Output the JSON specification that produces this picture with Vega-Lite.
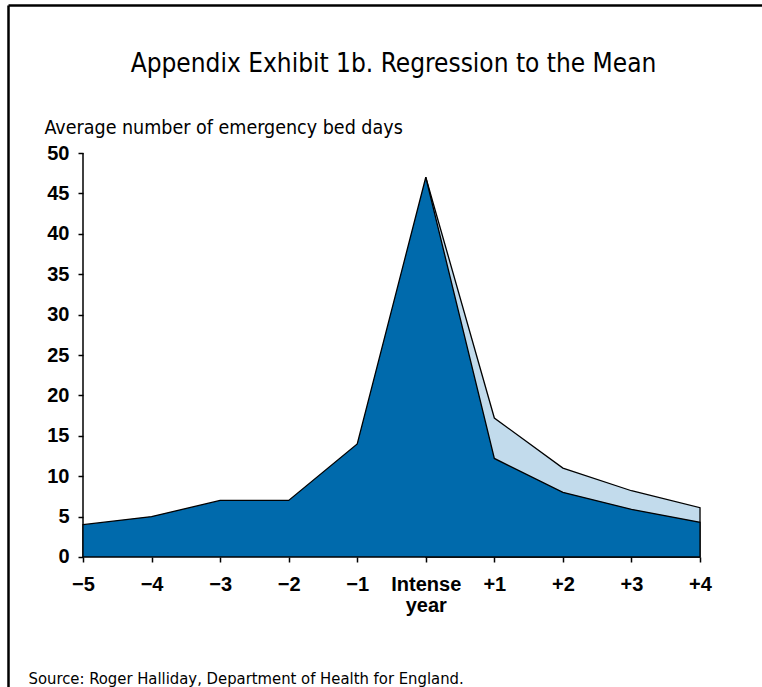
{
  "$schema": "https://vega.github.io/schema/vega-lite/v6.json",
  "width": 754,
  "height": 682,
  "autosize": {"type": "none"},
  "padding": {"left": 8, "top": 5, "right": 0, "bottom": 0},
  "background": "white",
  "config": {"view": {"stroke": null}},
  "datasets": {
    "dark": [
      {"period": -5, "days": 4},
      {"period": -4, "days": 5},
      {"period": -3, "days": 7},
      {"period": -2, "days": 7},
      {"period": -1, "days": 14},
      {"period": 0, "days": 47},
      {"period": 1, "days": 12.2},
      {"period": 2, "days": 8},
      {"period": 3, "days": 5.9},
      {"period": 4, "days": 4.3}
    ],
    "light": [
      {"period": 0, "days": 47},
      {"period": 1, "days": 17.2},
      {"period": 2, "days": 11},
      {"period": 3, "days": 8.2},
      {"period": 4, "days": 6.1}
    ],
    "axisline": [
      {"period": -5, "days": 0, "period2": -5, "days2": 50}
    ]
  },
  "resolve": {"axis": {"x": "independent", "y": "independent"}},
  "layer": [
    {
      "data": {"name": "axisline"},
      "mark": {"type": "rule", "color": "black", "strokeWidth": 1.5},
      "encoding": {
        "x": {
          "field": "period", "type": "quantitative",
          "scale": {"domain": [-6.094, 4.904], "nice": false, "zero": false},
          "axis": {
            "orient": "top", "domain": true, "domainColor": "black", "domainWidth": 2.5,
            "ticks": false, "labels": false, "grid": false, "values": [],
            "title": "Appendix Exhibit 1b. Regression to the Mean",
            "titleX": 385, "titleY": 58, "titleAlign": "center", "titleBaseline": "middle",
            "titleFont": "DejaVu Sans Condensed",
            "titleFontSize": 26, "titleFontWeight": "normal", "titleColor": "black"
          }
        },
        "x2": {"field": "period2"},
        "y": {
          "field": "days", "type": "quantitative",
          "scale": {"domain": [-16.09, 68.32], "nice": false, "zero": false},
          "axis": {
            "orient": "left", "offset": 0, "domain": true, "domainColor": "black", "domainWidth": 2.5,
            "ticks": false, "labels": false, "grid": false, "values": [], "title": null
          }
        },
        "y2": {"field": "days2"}
      }
    },
    {
      "data": {"name": "light"},
      "mark": {"type": "area", "color": "#C2DBEC", "stroke": "black", "strokeWidth": 1.3, "strokeJoin": "miter"},
      "encoding": {
        "x": {
          "field": "period", "type": "quantitative",
          "axis": {
            "orient": "bottom", "offset": -130, "domain": false, "grid": false,
            "values": [-5, -4, -3, -2, -1, 0, 1, 2, 3, 4],
            "labelExpr": "datum.value == 0 ? ['Intense', 'year'] : (datum.value > 0 ? '+' + datum.value : '\u2212' + abs(datum.value))",
            "ticks": true, "tickSize": 5, "tickColor": "black", "tickWidth": 1.5,
            "labelPadding": 12, "labelFont": "Liberation Sans, Arial, sans-serif", "labelFontSize": 20,
            "labelFontWeight": "bold", "labelColor": "black", "labelLineHeight": 21, "labelFlush": false, "labelOverlap": false,
            "title": "Source: Roger Halliday, Department of Health for England.",
            "titleX": 20, "titleY": 121, "titleAlign": "left", "titleAnchor": "start", "titleBaseline": "middle",
            "titleFont": "DejaVu Sans Condensed",
            "titleFontSize": 16.5, "titleFontWeight": "normal", "titleColor": "black"
          }
        },
        "y": {
          "field": "days", "type": "quantitative",
          "axis": {
            "orient": "left", "offset": -75, "domain": false, "grid": false,
            "values": [0, 5, 10, 15, 20, 25, 30, 35, 40, 45, 50],
            "ticks": true, "tickSize": 5, "tickColor": "black", "tickWidth": 1.5,
            "labelPadding": 9, "labelFont": "Liberation Sans, Arial, sans-serif", "labelFontSize": 20,
            "labelFontWeight": "bold", "labelColor": "black", "labelFlush": false, "labelOverlap": false,
            "title": "Average number of emergency bed days",
            "titleAngle": 0, "titleX": -39, "titleY": 122, "titleAlign": "left", "titleAnchor": "start", "titleBaseline": "middle",
            "titleFont": "DejaVu Sans Condensed",
            "titleFontSize": 19.5, "titleFontWeight": "normal", "titleColor": "black"
          }
        },
        "y2": {"datum": 0}
      }
    },
    {
      "data": {"name": "dark"},
      "mark": {"type": "area", "color": "#006AAC", "stroke": "black", "strokeWidth": 1.3, "strokeJoin": "miter"},
      "encoding": {
        "x": {"field": "period", "type": "quantitative", "axis": null},
        "y": {"field": "days", "type": "quantitative", "axis": null},
        "y2": {"datum": 0}
      }
    }
  ]
}
